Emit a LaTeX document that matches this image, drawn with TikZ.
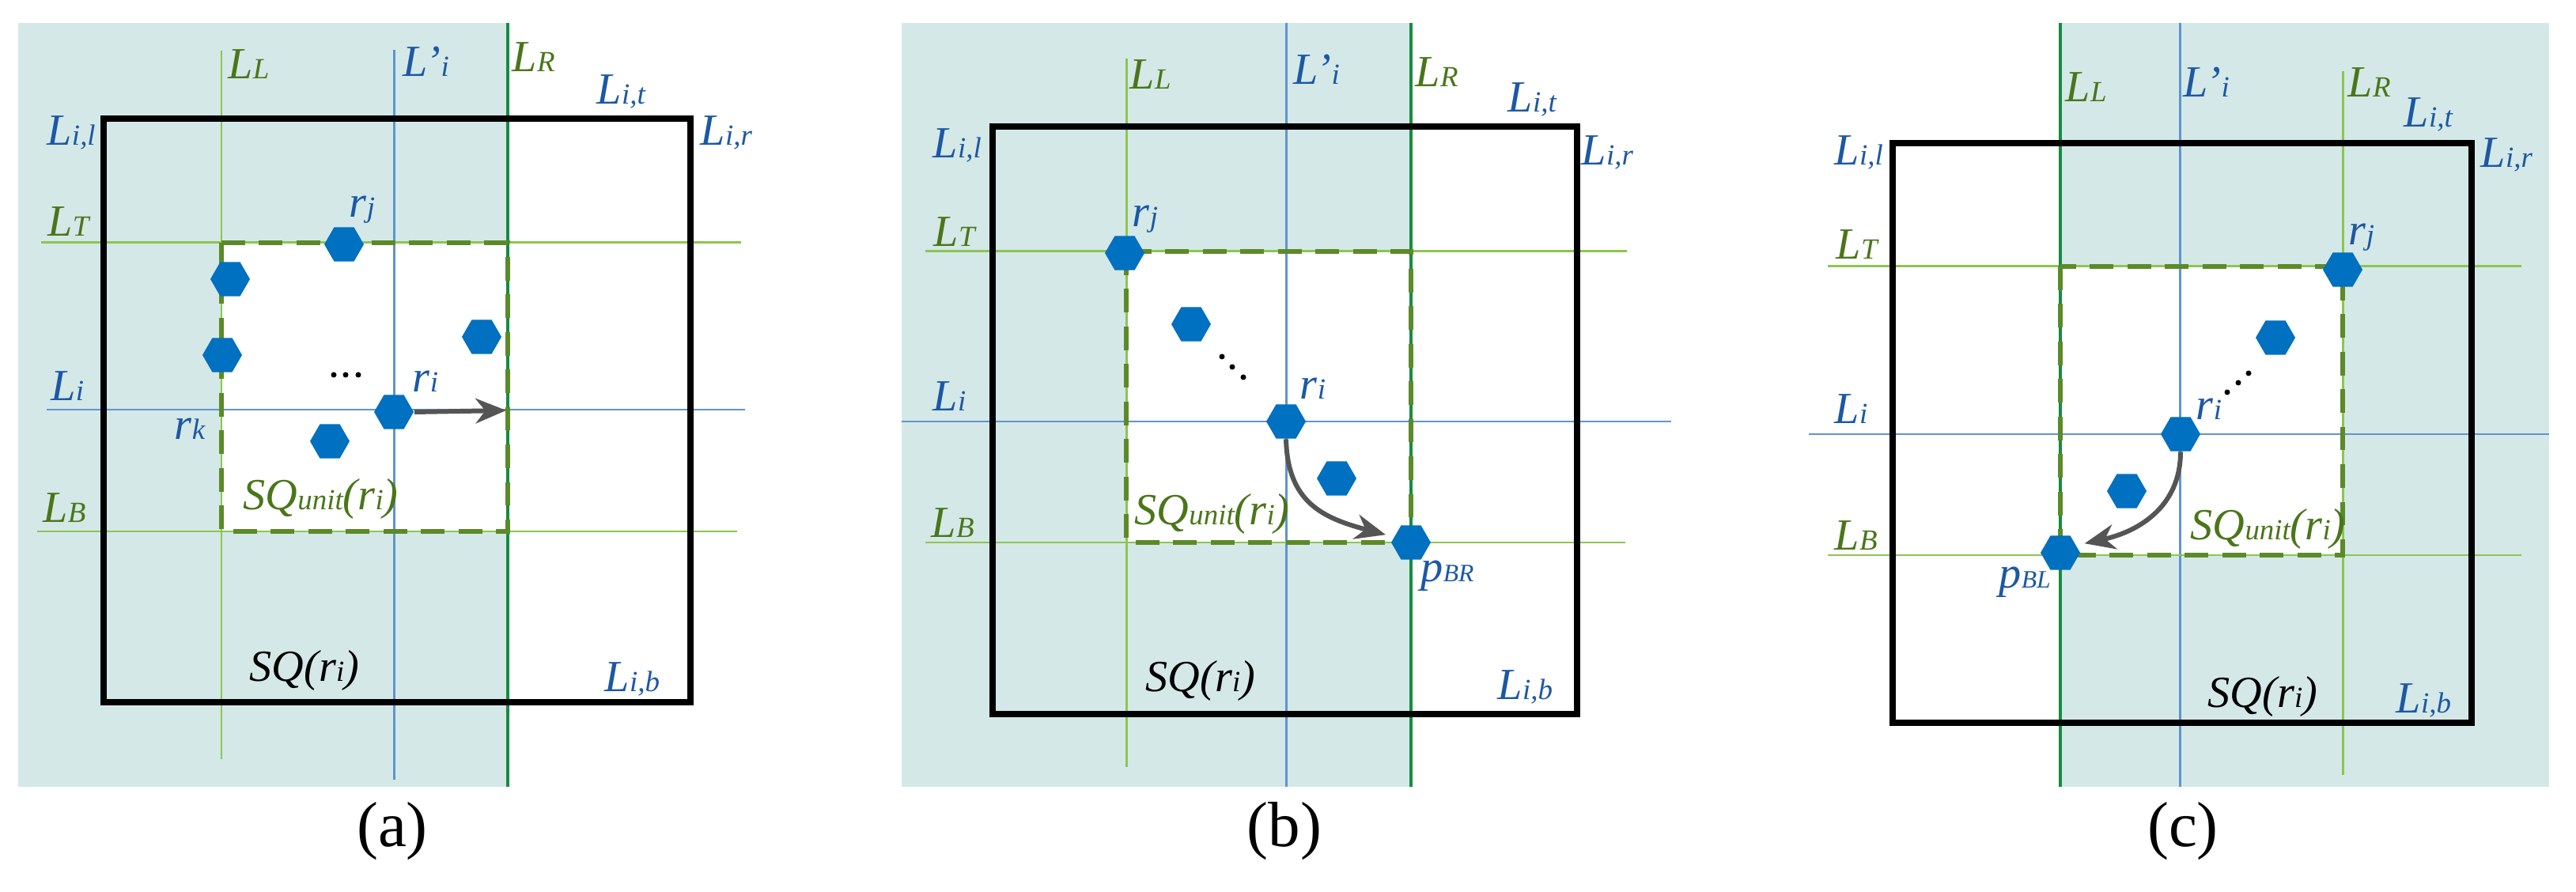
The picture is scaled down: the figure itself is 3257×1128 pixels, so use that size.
\documentclass[tikz,border=0pt]{standalone}
\usepackage{fontspec}
\setmainfont{Liberation Serif}
\usetikzlibrary{shapes.geometric,arrows.meta}
\definecolor{bgteal}{RGB}{212,232,232}
\definecolor{labblue}{RGB}{28,88,164}
\definecolor{labgreen}{RGB}{74,118,26}
\definecolor{lgreen}{RGB}{140,198,80}
\definecolor{dgreen}{RGB}{22,140,64}
\definecolor{lblue}{RGB}{96,148,206}
\definecolor{hexblue}{RGB}{0,112,192}
\definecolor{dashgreen}{RGB}{92,138,40}
\definecolor{arrgray}{RGB}{85,85,85}
\newcommand\lf{\fontsize{16}{18}\selectfont\itshape}
\newcommand\subx[1]{{\fontsize{10.5}{12}\selectfont #1}}
\newcommand\subs[1]{{\fontsize{9}{11}\selectfont #1}}
\tikzset{
  hexn/.style={regular polygon, regular polygon sides=6, minimum size=0.5cm, inner sep=0pt, fill=hexblue, draw=none},
  lab/.style={inner sep=0pt, font=\lf, anchor=base west},
  bl/.style={lab, text=labblue},
  gr/.style={lab, text=labgreen},
  bk/.style={lab, text=black},
  rlab/.style={inner sep=0pt, font=\lf, anchor=base, text=labblue},
  thinG/.style={draw=lgreen, line width=0.85pt},
  thinB/.style={draw=lblue, line width=0.85pt},
  darkG/.style={draw=dgreen, line width=1.2pt},
  sqbox/.style={draw=black, line width=2.3pt},
  unitbox/.style={draw=dashgreen, line width=1.8pt, dash pattern=on 8.5pt off 5pt, fill=white},
  arr/.style={draw=arrgray, line width=1.7pt, -{Stealth[length=11pt,width=9pt,inset=3.5pt]}},
  capn/.style={font=\fontsize{23}{26}\selectfont, inner sep=0pt}
}
\begin{document}
\begin{tikzpicture}[x=0.01cm,y=-0.01cm]
\fill[white] (0,0) rectangle (3257,1128);
\useasboundingbox (0,0) rectangle (3257,1128);

% ================= panel (a)
\fill[bgteal] (23,29) rectangle (642,995);
\path[unitbox,draw=none] (280,307) rectangle (642,672);
\draw[thinG] (280,64) -- (280,960);
\draw[thinB] (498,63) -- (498,986);
\draw[thinG] (52,307) -- (937,307);
\draw[thinB] (59,518) -- (942,518);
\draw[thinG] (47,672) -- (932,672);
\draw[darkG] (642,29) -- (642,995);
\draw[unitbox,fill=none] (280,307) rectangle (642,672);
\draw[sqbox] (131,150) rectangle (873,888);
\node[hexn] (arj) at (435,309) {};
\node[hexn] (ah1) at (291,353) {};
\node[hexn] (ah2) at (281,449) {};
\node[hexn] (ah3) at (609,426) {};
\node[hexn] (ari) at (498,521) {};
\node[hexn] (ah4) at (417,558) {};
\coordinate (aend) at (640,519);
\draw[arr] (ari.east) -- (aend);
\foreach \xx in {422,437,453} \fill (\xx,474) circle[radius=0.035cm];
\node[gr] (aLL) at (288,100) {L\subx{L}};
\node[bl] (aLpi) at (509,97) {L’\subx{i}};
\node[gr] (aLR) at (647,91) {L\subx{R}};
\node[bl] (aLit) at (754,132) {L\subx{i,t}};
\node[bl] (aLil) at (59,184) {L\subx{i,l}};
\node[bl] (aLir) at (885,184) {L\subx{i,r}};
\node[gr] (aLT) at (60,299) {L\subx{T}};
\node[bl] (aLi) at (64,507) {L\subx{i}};
\node[gr] (aLB) at (54,661) {L\subx{B}};
\node[rlab] (arjl) at (458,275) {r\subx{j}};
\node[rlab] (aril) at (538,496) {r\subx{i}};
\node[rlab] (arkl) at (240,556) {r\subx{k}};
\node[gr] (asqu) at (307,645) {SQ\subx{unit}(r\subx{i})};
\node[bk] (asq) at (315,862) {SQ(r\subx{i})};
\node[bl] (aLib) at (764,875) {L\subx{i,b}};
\node[capn] (capa) at (496,1051) {(a)};

% ================= panel (b)
\fill[bgteal] (1140,29) rectangle (1784,995);
\path[unitbox,draw=none] (1424,318) rectangle (1784,686);
\draw[thinG] (1424,74) -- (1424,970);
\draw[thinB] (1626,29) -- (1626,995);
\draw[thinG] (1170,318) -- (2057,318);
\draw[thinB] (1140,533) -- (2113,533);
\draw[thinG] (1170,686) -- (2055,686);
\draw[darkG] (1784,29) -- (1784,995);
\draw[unitbox,fill=none] (1424,318) rectangle (1784,686);
\draw[sqbox] (1255,160) rectangle (1994,903);
\node[hexn] (brj) at (1422,320) {};
\node[hexn] (bh1) at (1506,410) {};
\node[hexn] (bri) at (1626,533) {};
\node[hexn] (bh2) at (1690,605) {};
\node[hexn] (bpbr) at (1784,686) {};
\draw[arr, shorten >=3pt] (bri.south) .. controls (1628,635) and (1672,655) .. (bpbr.162);
\fill (1545,451) circle[radius=0.035cm];
\fill (1558,464) circle[radius=0.035cm];
\fill (1572,477) circle[radius=0.035cm];
\node[gr] (bLL) at (1428,113) {L\subx{L}};
\node[bl] (bLpi) at (1635,107) {L’\subx{i}};
\node[gr] (bLR) at (1789,110) {L\subx{R}};
\node[bl] (bLit) at (1906,142) {L\subx{i,t}};
\node[bl] (bLil) at (1179,200) {L\subx{i,l}};
\node[bl] (bLir) at (1999,209) {L\subx{i,r}};
\node[gr] (bLT) at (1180,312) {L\subx{T}};
\node[rlab] (brjl) at (1448,287) {r\subx{j}};
\node[bl] (bLi) at (1179,520) {L\subx{i}};
\node[rlab] (bril) at (1660,505) {r\subx{i}};
\node[gr] (bLB) at (1177,680) {L\subx{B}};
\node[gr] (bsqu) at (1434,664) {SQ\subx{unit}(r\subx{i})};
\node[bl] (bpl) at (1796,736) {p\subs{BR}};
\node[bk] (bsq) at (1448,875) {SQ(r\subx{i})};
\node[bl] (bLib) at (1893,885) {L\subx{i,b}};
\node[capn] (capb) at (1624,1051) {(b)};

% ================= panel (c)
\fill[bgteal] (2605,29) rectangle (3223,995);
\path[unitbox,draw=none] (2605,337) rectangle (2962,702);
\draw[thinG] (2962,90) -- (2962,980);
\draw[thinB] (2756,29) -- (2756,995);
\draw[thinG] (2311,337) -- (3188,337);
\draw[thinB] (2287,549) -- (3223,549);
\draw[thinG] (2311,702) -- (3188,702);
\draw[darkG] (2605,29) -- (2605,995);
\draw[unitbox,fill=none] (2605,337) rectangle (2962,702);
\draw[sqbox] (2393,181) rectangle (3125,914);
\node[hexn] (crj) at (2962,341) {};
\node[hexn] (ch1) at (2877,427) {};
\node[hexn] (cri) at (2757,549) {};
\node[hexn] (ch2) at (2689,621) {};
\node[hexn] (cpbl) at (2605,699) {};
\draw[arr, shorten >=3pt] (cri.south) .. controls (2757,640) and (2705,672) .. (cpbl.25);
\fill (2816,496) circle[radius=0.035cm];
\fill (2830,484) circle[radius=0.035cm];
\fill (2843,472) circle[radius=0.035cm];
\node[gr] (cLL) at (2611,129) {L\subx{L}};
\node[bl] (cLpi) at (2760,123) {L’\subx{i}};
\node[gr] (cLR) at (2968,123) {L\subx{R}};
\node[bl] (cLit) at (3039,161) {L\subx{i,t}};
\node[bl] (cLil) at (2319,209) {L\subx{i,l}};
\node[bl] (cLir) at (3136,212) {L\subx{i,r}};
\node[gr] (cLT) at (2321,328) {L\subx{T}};
\node[rlab] (crjl) at (2986,310) {r\subx{j}};
\node[bl] (cLi) at (2319,536) {L\subx{i}};
\node[rlab] (cril) at (2793,531) {r\subx{i}};
\node[gr] (cLB) at (2319,696) {L\subx{B}};
\node[gr] (csqu) at (2769,683) {SQ\subx{unit}(r\subx{i})};
\node[bl] (cpl) at (2527,744) {p\subs{BL}};
\node[bk] (csq) at (2791,894) {SQ(r\subx{i})};
\node[bl] (cLib) at (3029,901) {L\subx{i,b}};
\node[capn] (capc) at (2760,1051) {(c)};
\end{tikzpicture}
\end{document}
